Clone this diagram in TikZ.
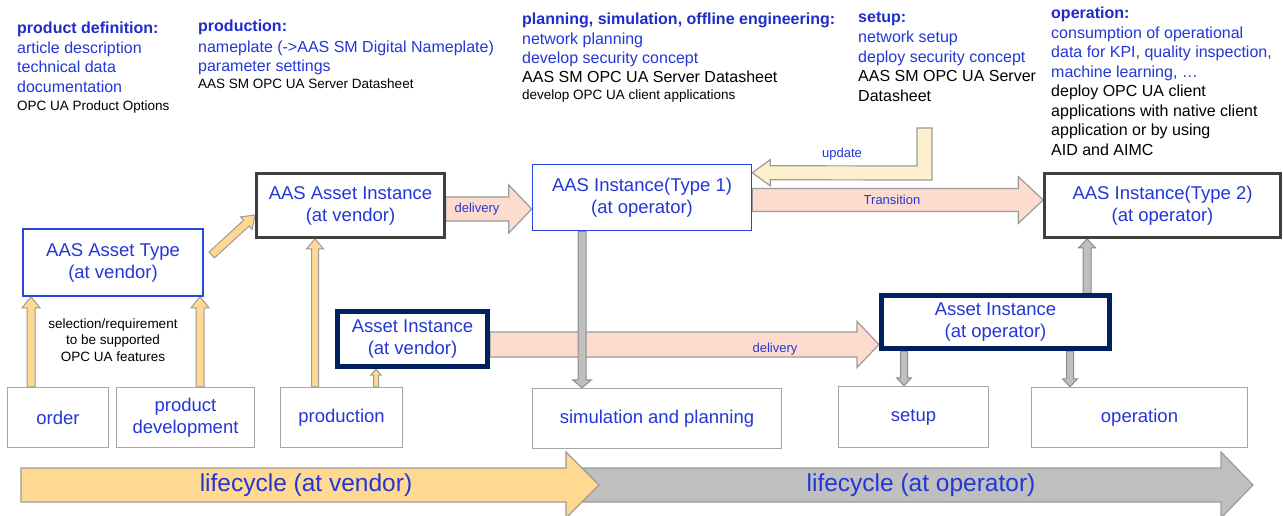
\documentclass[tikz,border=0pt]{standalone}
\usepackage{fontspec}
\setmainfont{Liberation Sans}
\usetikzlibrary{calc}
\pgfdeclarelayer{bg}
\pgfsetlayers{bg,main}
\definecolor{tblue}{RGB}{35,55,215}
\definecolor{hblue}{RGB}{30,45,200}
\definecolor{yel}{RGB}{255,217,145}
\definecolor{lyel}{RGB}{255,240,205}
\definecolor{pinkf}{RGB}{253,219,206}
\definecolor{agray}{RGB}{191,191,191}
\definecolor{aline}{RGB}{155,155,155}
\definecolor{gline}{RGB}{140,140,140}
\definecolor{navy}{RGB}{0,32,96}
\definecolor{dgray}{RGB}{64,64,64}
\definecolor{bgray}{RGB}{166,166,166}
\definecolor{bblue}{RGB}{40,70,220}

% #1 style, #2 from, #3 to, #4 half shaft, #5 half head, #6 head length
\newcommand\blockarrow[6]{%
  \coordinate (bah) at ($(#3)!#6pt!(#2)$);
  \draw[#1] ($(#2)!#4pt!90:(#3)$) -- ($(bah)!#4pt!90:(#3)$) -- ($(bah)!#5pt!90:(#3)$) -- (#3)
    -- ($(bah)!#5pt!-90:(#3)$) -- ($(bah)!#4pt!-90:(#3)$) -- ($(#2)!#4pt!-90:(#3)$) -- cycle;}

\tikzset{
  box/.style={draw, fill=white, align=center, inner sep=1pt, text=tblue, font=\fontsize{18.5}{22}\selectfont},
  bbox/.style={box, draw=bblue, line width=1.5pt},
  gbox/.style={box, draw=dgray, line width=2.7pt},
  nbox/.style={box, draw=navy, line width=5pt},
  lbox/.style={box, draw=bgray, line width=1.5pt},
  yarrow/.style={fill=yel, draw=aline, line width=1pt, line join=miter},
  uarrow/.style={fill=lyel, draw=aline, line width=1.2pt, line join=miter},
  parrow/.style={fill=pinkf, draw=aline, line width=1.2pt, line join=miter},
  garrow/.style={fill=agray, draw=gline, line width=1pt, line join=miter},
  hdr/.style={anchor=base west, inner sep=0pt, text=hblue, font=\fontsize{16}{19}\selectfont\bfseries},
  bl/.style={anchor=base west, inner sep=0pt, text=tblue, font=\fontsize{16}{19}\selectfont},
  bk/.style={anchor=base west, inner sep=0pt, text=black, font=\fontsize{16}{19}\selectfont},
  sm/.style={anchor=base west, inner sep=0pt, text=black, font=\fontsize{13.5}{16}\selectfont},
  lbl/.style={inner sep=0pt, text=tblue, font=\fontsize{13}{15}\selectfont},
  lcyc/.style={inner sep=0pt, text=tblue, font=\fontsize{24.5}{29}\selectfont},
}

\begin{document}
\begin{tikzpicture}[x=1pt,y=-1pt]
\useasboundingbox (0,0) rectangle (1283,515);

% ---------- top texts ----------
\node[hdr] (c1a) at (17,33) {product definition:};
\node[bl]  (c1b) at (17,53) {article description};
\node[bl]  (c1c) at (17,72.5) {technical data};
\node[bl]  (c1d) at (17,92.5) {documentation};
\node[sm]  (c1e) at (17,110) {OPC UA Product Options};

\node[hdr] (c2a) at (198,31.7) {production:};
\node[bl]  (c2b) at (198,52) {nameplate (->AAS SM Digital Nameplate)};
\node[bl]  (c2c) at (198,71) {parameter settings};
\node[sm]  (c2d) at (198,88.5) {AAS SM OPC UA Server Datasheet};

\node[hdr] (c3a) at (522,24) {planning, simulation, offline engineering:};
\node[bl]  (c3b) at (522,44) {network planning};
\node[bl]  (c3c) at (522,63.3) {develop security concept};
\node[bk]  (c3d) at (522,82.7) {AAS SM OPC UA Server Datasheet};
\node[sm]  (c3e) at (522,99) {develop OPC UA client applications};

\node[hdr] (c4a) at (858,22.7) {setup:};
\node[bl]  (c4b) at (858,42.7) {network setup};
\node[bl]  (c4c) at (858,62.7) {deploy security concept};
\node[bk]  (c4d) at (858,81.7) {AAS SM OPC UA Server};
\node[bk]  (c4e) at (858,101.7) {Datasheet};

\node[hdr] (c5a) at (1051,18.3) {operation:};
\node[bl]  (c5b) at (1051,38.3) {consumption of operational};
\node[bl]  (c5c) at (1051,57.7) {data for KPI, quality inspection,};
\node[bl]  (c5d) at (1051,77.3) {machine learning, …};
\node[bk]  (c5e) at (1051,96.7) {deploy OPC UA client};
\node[bk]  (c5f) at (1051,116) {applications with native client};
\node[bk]  (c5g) at (1051,135) {application or by using};
\node[bk]  (c5h) at (1051,155) {AID and AIMC};

% ---------- boxes ----------
\node[bbox, minimum width=180pt, minimum height=67pt] (type) at (113,262.5) {AAS Asset Type\\(at vendor)};
\node[gbox, minimum width=188pt, minimum height=64pt] (aai) at (350.5,205.5) {AAS Asset Instance\\(at vendor)};
\node[nbox, minimum width=150pt, minimum height=55pt] (avi) at (412.5,339) {Asset Instance\\(at vendor)};
\node[bbox, minimum width=219pt, minimum height=66pt] (t1) at (642,197.5) {AAS Instance(Type 1)\\(at operator)};
\node[gbox, minimum width=236pt, minimum height=64pt] (t2) at (1162.5,205.5) {AAS Instance(Type 2)\\(at operator)};
\node[nbox, minimum width=228pt, minimum height=53pt] (aop) at (995.5,322) {Asset Instance\\(at operator)};

\node[lbox, minimum width=101pt, minimum height=60pt] (order) at (58,417.5) {order};
\node[lbox, minimum width=138pt, minimum height=60pt] (pdev) at (185.5,417.5) {product\\development};
\node[lbox, minimum width=122pt, minimum height=60pt] (prod) at (341.5,417.5) {production};
\node[lbox, minimum width=249pt, minimum height=60pt] (sim) at (657,418.5) {simulation and planning};
\node[lbox, minimum width=150pt, minimum height=61pt] (setup) at (913.5,417) {setup};
\node[lbox, minimum width=216pt, minimum height=60pt] (oper) at (1139.5,417.5) {operation};

\node[align=center, inner sep=0pt, text=black, font=\fontsize{13.5}{16.2}\selectfont] (sel) at (113,340) {selection/requirement\\to be supported\\OPC UA features};

% ---------- helper coordinates ----------
\coordinate (xa) at (31,0);
\coordinate (xb) at (200,0);
\coordinate (xc) at (315,0);
\coordinate (xd) at (376,0);
\coordinate (xg1) at (582,0);
\coordinate (xg2) at (904,0);
\coordinate (xg3) at (1070,0);
\coordinate (xg4) at (1087,0);
\coordinate (ya) at (0,209);
\coordinate (yb) at (0,200);
\coordinate (yc) at (0,344.5);
\coordinate (yd) at (0,215);

\coordinate (y1s) at (xa |- order.north);
\coordinate (y1e) at (xa |- type.south);
\coordinate (y2s) at (xb |- pdev.north);
\coordinate (y2e) at (xb |- type.south);
\coordinate (y4s) at (xc |- prod.north);
\coordinate (y4e) at (xc |- aai.south);
\coordinate (y5s) at (xd |- prod.north);
\coordinate (y5e) at (xd |- avi.south);
\coordinate (d1s) at ($(type.east)+(8,-7.5)$);
\coordinate (d1e) at (aai.west |- yd);
\coordinate (p1s) at (aai.east |- ya);
\coordinate (p1e) at (t1.west |- ya);
\coordinate (p2s) at (t1.east |- yb);
\coordinate (p2e) at (t2.west |- yb);
\coordinate (p3s) at (avi.east |- yc);
\coordinate (p3e) at (aop.west |- yc);
\coordinate (g1s) at (xg1 |- t1.south);
\coordinate (g1e) at (xg1 |- sim.north);
\coordinate (g2s) at (xg2 |- aop.south);
\coordinate (g2e) at (xg2 |- setup.north);
\coordinate (g3s) at (xg3 |- aop.south);
\coordinate (g3e) at (xg3 |- oper.north);
\coordinate (g4s) at (xg4 |- aop.north);
\coordinate (g4e) at (xg4 |- t2.south);
\coordinate (upd) at (924.5,128);
\coordinate (updt) at ($(t1.north east)+(0,9)$);

% ---------- arrows (behind boxes) ----------
\begin{pgfonlayer}{bg}
\fill[white] (0,0) rectangle (1283,515);
% lifecycle arrows
\draw[fill=agray, draw=aline, line width=1.2pt, line join=miter]
  (570,468) -- (1221,468) -- (1221,452) -- (1253,485) -- (1221,518) -- (1221,502) -- (570,502) -- cycle;
\draw[fill=yel, draw=aline, line width=1.2pt, line join=miter]
  (21,468) -- (566,468) -- (566,452) -- (599,485) -- (566,518) -- (566,502) -- (21,502) -- cycle;
% yellow
\blockarrow{yarrow}{y1s}{y1e}{4}{9}{11}
\blockarrow{yarrow}{y2s}{y2e}{4}{9}{11}
\blockarrow{yarrow}{y4s}{y4e}{3.5}{8.5}{10}
\blockarrow{yarrow}{y5s}{y5e}{2.5}{5}{6}
\blockarrow{yarrow}{d1s}{d1e}{4}{8.5}{12}
% update
\draw[uarrow] ($(upd)+(-7.5,0)$) -- ($(upd)+(7.5,0)$) -- ($(upd)+(7.5,52)$) -- ($(updt)+(18,7)$)
  -- ($(updt)+(18,13)$) -- (updt) -- ($(updt)+(18,-13)$) -- ($(updt)+(18,-7)$) -- ($(upd)+(-7.5,38)$) -- cycle;
% pink
\blockarrow{parrow}{p1s}{p1e}{12}{24}{23}
\blockarrow{parrow}{p2s}{p2e}{11.5}{23.5}{25}
\blockarrow{parrow}{p3s}{p3e}{12.5}{23}{22}
% gray
\blockarrow{garrow}{g1s}{g1e}{4}{9.5}{8}
\blockarrow{garrow}{g2s}{g2e}{3.5}{7.5}{8}
\blockarrow{garrow}{g3s}{g3e}{3.5}{7.5}{8}
\blockarrow{garrow}{g4s}{g4e}{4}{8.5}{9}
\end{pgfonlayer}

% ---------- labels ----------
\node[lbl] (l1) at (477,209) {delivery};
\node[lbl] (l2) at (842,154) {update};
\node[lbl] (l3) at (892,200) {Transition};
\node[lbl] (l4) at (775,349) {delivery};
\node[lcyc] (lcv) at (306,485) {lifecycle (at vendor)};
\node[lcyc] (lco) at (921,485) {lifecycle (at operator)};
\end{tikzpicture}
\end{document}
